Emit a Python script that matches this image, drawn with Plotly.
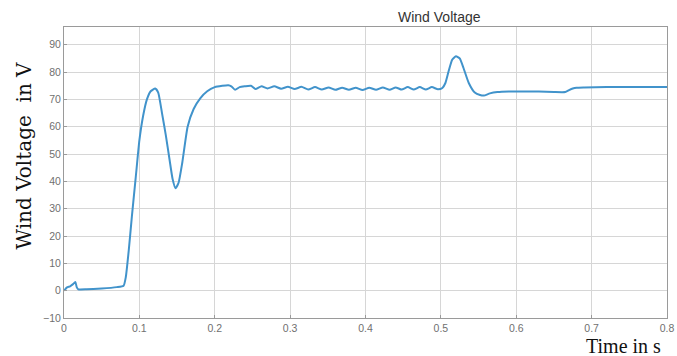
import plotly.graph_objects as go

# Time (s) and wind voltage (V)
time_s = [0.0, 0.004, 0.008, 0.012, 0.015, 0.017, 0.019, 0.03, 0.05, 0.07, 0.079,
          0.082, 0.086, 0.09, 0.095, 0.1, 0.105, 0.11, 0.115, 0.121, 0.125, 0.13,
          0.135, 0.14, 0.144, 0.148, 0.152, 0.157, 0.164, 0.172, 0.181, 0.19, 0.2,
          0.21, 0.218, 0.222, 0.227, 0.233, 0.24, 0.248, 0.254, 0.262, 0.27, 0.279,
          0.288, 0.297, 0.306, 0.315, 0.324, 0.333, 0.342, 0.351, 0.36, 0.369,
          0.378, 0.387, 0.396, 0.405, 0.414, 0.423, 0.432, 0.44, 0.448, 0.456,
          0.464, 0.472, 0.48, 0.488, 0.496, 0.502, 0.506, 0.51, 0.515, 0.52,
          0.525, 0.53, 0.537, 0.545, 0.552, 0.557, 0.565, 0.575, 0.59, 0.61,
          0.63, 0.65, 0.665, 0.67, 0.675, 0.68, 0.69, 0.72, 0.76, 0.8]
voltage_v = [0.0, 1.2, 1.6, 2.4, 3.2, 1.2, 0.5, 0.5, 0.8, 1.3, 1.8,
             5.0, 15.0, 27.0, 41.0, 55.0, 64.0, 70.0, 73.0, 74.0, 72.5, 65.0,
             57.0, 48.0, 41.0, 37.5, 39.5, 47.0, 60.0, 66.5, 70.5, 73.0, 74.5,
             75.0, 75.2, 74.8, 73.5, 74.5, 74.8, 75.0, 73.8, 74.8, 74.0, 74.8,
             73.9, 74.6, 73.8, 74.6, 73.6, 74.5, 73.6, 74.4, 73.5, 74.3, 73.5,
             74.3, 73.4, 74.3, 73.5, 74.4, 73.5, 74.4, 73.6, 74.5, 73.6, 74.5,
             73.6, 74.5, 73.7, 74.2, 76.0, 80.0, 84.5, 85.8, 85.0, 81.5, 76.0,
             72.5, 71.6, 71.4, 72.2, 72.7, 72.9, 72.9, 72.9, 72.7, 72.7, 73.4,
             74.0, 74.3, 74.4, 74.5, 74.5, 74.5]

x_ticks = [0, 0.1, 0.2, 0.3, 0.4, 0.5, 0.6, 0.7, 0.8]
x_tick_text = ["0", "0.1", "0.2", "0.3", "0.4", "0.5", "0.6", "0.7", "0.8"]
y_ticks = [-10, 0, 10, 20, 30, 40, 50, 60, 70, 80, 90]

fig = go.Figure()
fig.add_trace(go.Scatter(
    x=time_s, y=voltage_v, mode="lines",
    line=dict(color="#4193cb", width=2, shape="spline", smoothing=0.5),
    showlegend=False,
))

axis_common = dict(
    showgrid=True, gridcolor="#d6d6d6", gridwidth=1,
    showline=True, linecolor="#9a9a9a", linewidth=1, mirror=True,
    zeroline=False, ticks="inside", ticklen=3, tickcolor="#9a9a9a",
    automargin=False,
    tickfont=dict(family="Liberation Sans, Arial", size=10.5, color="#707070"),
)

fig.update_xaxes(range=[0, 0.8], tickvals=x_ticks, ticktext=x_tick_text, **axis_common)
fig.update_yaxes(range=[-10, 96.5], tickvals=y_ticks, **axis_common)

fig.update_layout(
    width=677, height=356,
    margin=dict(l=64, r=10, t=27, b=38),
    plot_bgcolor="white", paper_bgcolor="white",
    annotations=[
        dict(text="Wind Voltage", xref="paper", yref="paper", x=0.622, y=1.034,
             showarrow=False, xanchor="center", yanchor="middle",
             font=dict(family="Liberation Sans, Arial", size=14, color="#333333")),
        dict(text="Wind Voltage  in V", xref="paper", yref="paper", x=-0.067, y=0.557,
             showarrow=False, textangle=-90, xanchor="center", yanchor="middle",
             font=dict(family="DejaVu Serif", size=20, color="#111111")),
        dict(text="Time in s", xref="paper", yref="paper", x=0.928, y=-0.095,
             showarrow=False, xanchor="center", yanchor="middle",
             font=dict(family="Liberation Serif, Times New Roman", size=20, color="#111111")),
    ],
)

fig.write_html("out.html", config={"displayModeBar": False},
               post_script="document.body.style.margin='0';")
